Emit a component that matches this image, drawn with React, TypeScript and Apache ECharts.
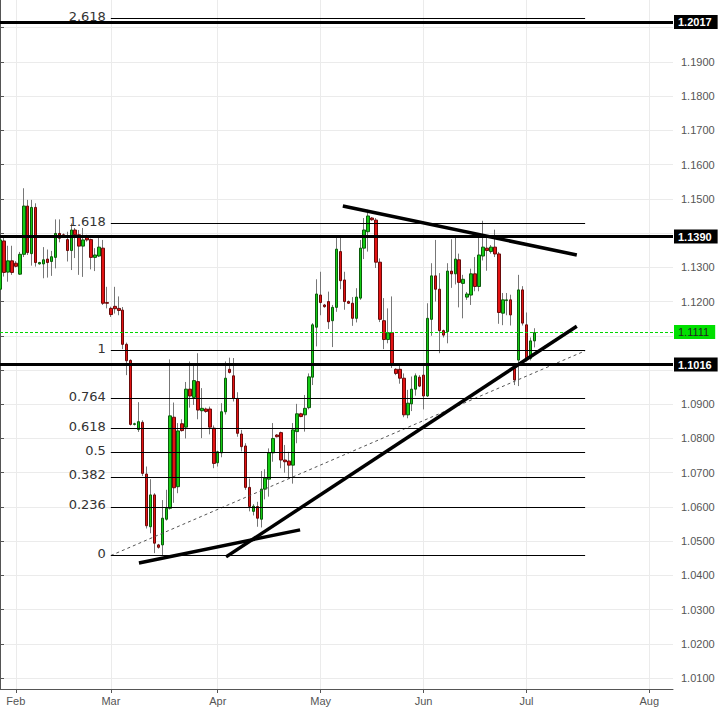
import React, { useEffect, useRef } from "react";
import * as echarts from "echarts";

// ---- axis slots: Sun–Fri trading days up to the last candle, then calendar days
const START_DATE = "2015-01-27";
const LAST_CANDLE_DATE = "2015-07-03";
const SLOT_COUNT = 171;
const MONTHS = ["Jan", "Feb", "Mar", "Apr", "May", "Jun", "Jul", "Aug", "Sep", "Oct", "Nov", "Dec"];

// ---- daily candles [open, high, low, close], one per slot from START_DATE
const candles: number[][] = [
  [1.1236, 1.1422, 1.1218, 1.1380], [1.1377, 1.1387, 1.1273, 1.1285], [1.1286, 1.1363, 1.1258, 1.1319],
  [1.1319, 1.1363, 1.1278, 1.1285], [1.1312, 1.1318, 1.1300, 1.1303], [1.1280, 1.1345, 1.1278, 1.1338],
  [1.1338, 1.1531, 1.1330, 1.1479], [1.1479, 1.1497, 1.1336, 1.1343], [1.1340, 1.1497, 1.1305, 1.1475],
  [1.1475, 1.1487, 1.1302, 1.1314], [1.1310, 1.1316, 1.1308, 1.1314], [1.1310, 1.1359, 1.1268, 1.1322],
  [1.1324, 1.1352, 1.1270, 1.1314], [1.1317, 1.1348, 1.1275, 1.1331], [1.1329, 1.1440, 1.1297, 1.1399],
  [1.1399, 1.1440, 1.1373, 1.1385], [1.1395, 1.1399, 1.1388, 1.1392], [1.1381, 1.1404, 1.1317, 1.1349],
  [1.1349, 1.1428, 1.1292, 1.1409], [1.1409, 1.1415, 1.1327, 1.1395], [1.1395, 1.1409, 1.1278, 1.1362],
  [1.1362, 1.1415, 1.1272, 1.1380], [1.1391, 1.1395, 1.1375, 1.1380], [1.1381, 1.1384, 1.1294, 1.1329],
  [1.1329, 1.1356, 1.1289, 1.1336], [1.1333, 1.1386, 1.1330, 1.1359], [1.1356, 1.1380, 1.1190, 1.1195],
  [1.1197, 1.1243, 1.1180, 1.1195], [1.1180, 1.1185, 1.1155, 1.1162], [1.1186, 1.1243, 1.1165, 1.1179],
  [1.1180, 1.1215, 1.1160, 1.1174], [1.1175, 1.1184, 1.1061, 1.1075], [1.1075, 1.1080, 1.0985, 1.1027],
  [1.1028, 1.1031, 1.0838, 1.0841], [1.0841, 1.0846, 1.0838, 1.0843], [1.0826, 1.0906, 1.0819, 1.0849],
  [1.0847, 1.0853, 1.0690, 1.0698], [1.0696, 1.0718, 1.0537, 1.0545], [1.0542, 1.0681, 1.0523, 1.0635],
  [1.0635, 1.0640, 1.0465, 1.0494], [1.0489, 1.0492, 1.0478, 1.0482], [1.0489, 1.0620, 1.0458, 1.0567],
  [1.0564, 1.0650, 1.0560, 1.0596], [1.0596, 1.1031, 1.0592, 1.0866], [1.0862, 1.0905, 1.0612, 1.0656],
  [1.0659, 1.0845, 1.0640, 1.0822], [1.0843, 1.0856, 1.0820, 1.0823], [1.0833, 1.0965, 1.0800, 1.0944],
  [1.0944, 1.1025, 1.0890, 1.0924], [1.0920, 1.1015, 1.0898, 1.0969], [1.0966, 1.1049, 1.0856, 1.0883],
  [1.0881, 1.0947, 1.0801, 1.0888], [1.0886, 1.0890, 1.0875, 1.0879], [1.0886, 1.0893, 1.0812, 1.0833],
  [1.0830, 1.0838, 1.0713, 1.0727], [1.0729, 1.0764, 1.0718, 1.0761], [1.0758, 1.0903, 1.0745, 1.0878],
  [1.0878, 1.1025, 1.0870, 1.0976], [1.1002, 1.1036, 1.0990, 1.0993], [1.0983, 1.1035, 1.0908, 1.0917],
  [1.0917, 1.0935, 1.0805, 1.0815], [1.0813, 1.0825, 1.0762, 1.0776], [1.0778, 1.0786, 1.0650, 1.0657],
  [1.0657, 1.0683, 1.0587, 1.0601], [1.0587, 1.0608, 1.0575, 1.0602], [1.0601, 1.0615, 1.0542, 1.0567],
  [1.0564, 1.0705, 1.0540, 1.0652], [1.0652, 1.0710, 1.0622, 1.0684], [1.0681, 1.0771, 1.0630, 1.0758],
  [1.0758, 1.0845, 1.0732, 1.0800], [1.0810, 1.0813, 1.0803, 1.0805], [1.0817, 1.0820, 1.0713, 1.0737],
  [1.0737, 1.0781, 1.0700, 1.0732], [1.0734, 1.0761, 1.0683, 1.0722], [1.0722, 1.0845, 1.0668, 1.0825],
  [1.0820, 1.0901, 1.0786, 1.0872], [1.0872, 1.0875, 1.0862, 1.0864], [1.0869, 1.0927, 1.0820, 1.0888],
  [1.0890, 1.0990, 1.0885, 1.0980], [1.0979, 1.1137, 1.0956, 1.1132], [1.1125, 1.1265, 1.1069, 1.1222],
  [1.1219, 1.1287, 1.1160, 1.1197], [1.1190, 1.1193, 1.1182, 1.1185], [1.1200, 1.1229, 1.1120, 1.1141],
  [1.1144, 1.1190, 1.1067, 1.1183], [1.1183, 1.1392, 1.1170, 1.1353], [1.1346, 1.1390, 1.1236, 1.1261],
  [1.1263, 1.1287, 1.1176, 1.1200], [1.1200, 1.1203, 1.1193, 1.1195], [1.1195, 1.1213, 1.1129, 1.1151],
  [1.1151, 1.1239, 1.1139, 1.1213], [1.1210, 1.1380, 1.1205, 1.1356], [1.1356, 1.1444, 1.1324, 1.1409],
  [1.1404, 1.1468, 1.1346, 1.1450], [1.1444, 1.1447, 1.1436, 1.1439], [1.1438, 1.1444, 1.1298, 1.1315],
  [1.1315, 1.1326, 1.1140, 1.1148], [1.1144, 1.1210, 1.1061, 1.1089], [1.1089, 1.1180, 1.1078, 1.1109],
  [1.1109, 1.1215, 1.1006, 1.1017], [1.1002, 1.1005, 1.0985, 1.0990], [1.1002, 1.1015, 1.0960, 1.0976],
  [1.0976, 1.0990, 1.0862, 1.0869], [1.0869, 1.0942, 1.0859, 1.0903], [1.0901, 1.0981, 1.0880, 1.0944],
  [1.0944, 1.0990, 1.0925, 1.0983], [1.0979, 1.0985, 1.0950, 1.0953], [1.0985, 1.1019, 1.0885, 1.0924],
  [1.0924, 1.1195, 1.0921, 1.1151], [1.1148, 1.1312, 1.1100, 1.1275], [1.1275, 1.1380, 1.1200, 1.1236],
  [1.1236, 1.1283, 1.1049, 1.1115], [1.1115, 1.1118, 1.1095, 1.1102], [1.1112, 1.1312, 1.1078, 1.1289],
  [1.1289, 1.1382, 1.1240, 1.1281], [1.1281, 1.1387, 1.1250, 1.1324], [1.1322, 1.1340, 1.1183, 1.1256],
  [1.1253, 1.1278, 1.1151, 1.1265], [1.1213, 1.1228, 1.1205, 1.1222], [1.1219, 1.1296, 1.1190, 1.1281],
  [1.1281, 1.1330, 1.1230, 1.1244], [1.1244, 1.1395, 1.1230, 1.1336], [1.1333, 1.1436, 1.1320, 1.1359],
  [1.1356, 1.1392, 1.1290, 1.1349], [1.1346, 1.1365, 1.1340, 1.1359], [1.1359, 1.1410, 1.1330, 1.1339],
  [1.1339, 1.1345, 1.1135, 1.1168], [1.1166, 1.1225, 1.1131, 1.1205], [1.1203, 1.1225, 1.1160, 1.1205],
  [1.1205, 1.1220, 1.1130, 1.1161], [1.1005, 1.1015, 1.0956, 1.0971], [1.1029, 1.1278, 1.0953, 1.1234],
  [1.1234, 1.1245, 1.1130, 1.1137], [1.1132, 1.1168, 1.1025, 1.1032], [1.1034, 1.1095, 1.1028, 1.1085],
  [1.1085, 1.1122, 1.1066, 1.1109],
];

// ---- price axis
const PRICE_MIN = 1.0068;
const PRICE_MAX = 1.2081;
const gridPrices = [1.01, 1.02, 1.03, 1.04, 1.05, 1.06, 1.07, 1.08, 1.09, 1.10, 1.11, 1.12, 1.13, 1.14, 1.15, 1.16, 1.17, 1.18, 1.19, 1.20];
const labelPrices = [1.01, 1.02, 1.03, 1.04, 1.05, 1.06, 1.07, 1.08, 1.09, 1.12, 1.13, 1.15, 1.16, 1.17, 1.18, 1.19];

// ---- horizontal levels
const keyLevels = [1.2017, 1.1390, 1.1016];
const lastPrice = 1.1111;

// ---- fibonacci extension (swing low -> swing high), drawn between two slots
const fibLow = 1.0459;
const fibHigh = 1.1058;
const fibRatios = [0, 0.236, 0.382, 0.5, 0.618, 0.764, 1, 1.618, 2.618];
const fibLabels = ["0", "0.236", "0.382", "0.5", "0.618", "0.764", "1", "1.618", "2.618"];
const fibSlots = [28, 147.8];

// ---- trend lines [slot, price] pairs
const trendLines: number[][][] = [
  [[86.6, 1.1479], [145.7, 1.1336]],
  [[35.1, 1.0436], [75.8, 1.0533]],
  [[57.1, 1.0454], [145.7, 1.1128]],
];
const dashedTrend: number[][] = [[28.0, 1.0458], [147.8, 1.1056]];

function buildSlots(): string[] {
  const out: string[] = [];
  const d = new Date(START_DATE + "T00:00:00Z");
  const last = new Date(LAST_CANDLE_DATE + "T00:00:00Z").getTime();
  while (out.length < SLOT_COUNT) {
    if (d.getTime() > last || d.getUTCDay() !== 6) out.push(d.toISOString().slice(0, 10));
    d.setUTCDate(d.getUTCDate() + 1);
  }
  return out;
}

const FONT = "'Liberation Sans', Arial, sans-serif";

export default function App() {
  const ref = useRef<HTMLDivElement>(null);
  useEffect(() => {
    if (!ref.current) return;
    const chart = echarts.init(ref.current, undefined, { renderer: "svg" });
    const slots = buildSlots();
    const monthStart = (i: number) => i > 0 && slots[i].slice(0, 7) !== slots[i - 1].slice(0, 7);

    const wickData = candles.map(([o, h, l, c]) => [o, c, l, h]);
    const bodyData = candles.map(([o, , , c]) => [o, c, Math.min(o, c), Math.max(o, c)]);

    const levelMarks: any[] = keyLevels.map((v) => ({
      yAxis: v,
      lineStyle: { color: "#000", width: 3, type: "solid" },
      label: {
        show: true, position: "end", distance: 1, formatter: v.toFixed(4),
        backgroundColor: "#000", color: "#fff", fontWeight: "bold", fontSize: 11,
        fontFamily: FONT, padding: [2, 6, 1, 4],
      },
    }));
    levelMarks.push({
      yAxis: lastPrice,
      lineStyle: { color: "#00d800", width: 1, type: [3, 2] },
      label: {
        show: true, position: "end", distance: 1, formatter: lastPrice.toFixed(4),
        backgroundColor: "#00e000", color: "#222", fontSize: 11, fontFamily: FONT,
        padding: [2, 6, 1, 4],
      },
    });
    const fibMarks: any[] = fibRatios.map((r, i) => {
      const p = fibLow + r * (fibHigh - fibLow);
      return [
        {
          coord: [fibSlots[0], p],
          lineStyle: { color: "#000", width: 1, type: "solid" },
          label: {
            show: true, position: "start", distance: 5, offset: [0, -2], formatter: fibLabels[i],
            color: "#333", fontSize: 13, fontFamily: "'DejaVu Sans', Verdana, sans-serif",
          },
        },
        { coord: [fibSlots[1], p] },
      ];
    });

    const option: any = {
      animation: false,
      backgroundColor: "#fff",
      grid: { left: 0, right: 46, top: 0, bottom: 20 },
      xAxis: [
        {
          type: "category",
          data: slots,
          boundaryGap: false,
          axisLine: { show: true, lineStyle: { color: "#555" } },
          axisTick: { show: true, interval: (i: number) => monthStart(i), length: 4, lineStyle: { color: "#555" } },
          axisLabel: {
            interval: (i: number) => monthStart(i),
            formatter: (v: string) => MONTHS[parseInt(v.slice(5, 7), 10) - 1],
            color: "#555", fontSize: 11, fontFamily: FONT, margin: 6,
          },
          splitLine: { show: true, interval: (i: number) => monthStart(i), lineStyle: { color: "#ebebeb" } },
        },
        { type: "value", min: 0, max: SLOT_COUNT - 1, show: false },
      ],
      yAxis: {
        type: "value",
        position: "right",
        min: PRICE_MIN,
        max: PRICE_MAX,
        axisLine: { show: true, lineStyle: { color: "#555" } },
        axisTick: { show: true, customValues: gridPrices, length: 4, lineStyle: { color: "#555" } },
        axisLabel: {
          customValues: labelPrices,
          formatter: (v: number) => v.toFixed(4),
          color: "#555", fontSize: 11, fontFamily: FONT, margin: 8,
        },
        splitLine: { show: true, lineStyle: { color: "#ebebeb" } },
      },
      series: [
        {
          type: "candlestick",
          data: wickData,
          barWidth: 1,
          z: 2,
          itemStyle: { color: "#777", color0: "#777", borderColor: "#777", borderColor0: "#777", borderWidth: 1 },
        },
        {
          type: "candlestick",
          data: bodyData,
          barWidth: 3,
          z: 3,
          itemStyle: {
            color: "#14cc14", color0: "#e31212",
            borderColor: "#0b5c0b", borderColor0: "#6a0a0a", borderWidth: 1,
          },
        },
        {
          type: "line",
          xAxisIndex: 1,
          data: dashedTrend,
          symbol: "none",
          z: 4,
          lineStyle: { color: "#555", width: 1, type: [3, 3] },
          markLine: {
            silent: true,
            precision: 4,
            symbol: ["none", "none"],
            animation: false,
            data: [...levelMarks, ...fibMarks],
          },
        },
        ...trendLines.map((pts) => ({
          type: "line",
          xAxisIndex: 1,
          data: pts,
          symbol: "none",
          z: 5,
          lineStyle: { color: "#000", width: 3.5 },
        })),
      ],
    };
    chart.setOption(option);
    return () => chart.dispose();
  }, []);
  return (
    <div
      ref={ref}
      style={{ position: "fixed", left: 0, top: 0, width: 719, height: 709, background: "#fff" }}
    />
  );
}
